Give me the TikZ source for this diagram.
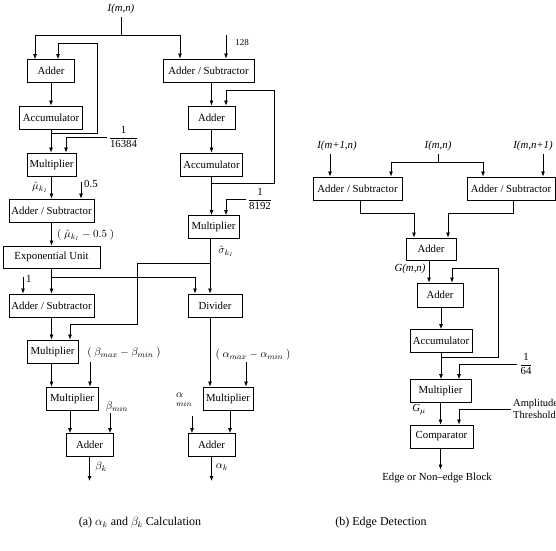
\documentclass[tikz,border=0pt]{standalone}
\usepackage{fontspec}
\setmainfont{Liberation Serif}
\usetikzlibrary{arrows.meta}
\begin{document}
\begin{tikzpicture}[x=1pt,y=-1pt,
    every node/.style={font=\fontsize{10.8}{12}\selectfont},
    block/.style={draw,line width=0.9pt,minimum height=23pt,inner sep=2pt},
    arrow/.style={line width=0.7pt,-{Latex[length=5pt,width=4pt]}},
    wire/.style={line width=0.7pt},
    frac/.style={inner sep=2pt},
    small/.style={font=\fontsize{9}{11.5}\selectfont},
    caption/.style={font=\fontsize{12}{14}\selectfont}]
\useasboundingbox (0,0) rectangle (556,550);

% (a) left column
\node (lblI) at (121,9) {\textit{I(m,n)}};
\node[block,minimum width=47pt] (addA) at (51,71) {Adder};
\node[block,minimum width=63pt] (accA) at (51,117.5) {Accumulator};
\node[block,minimum width=49pt] (mulA) at (51.5,164.5) {Multiplier};
\node[block,minimum width=85pt] (asA) at (51.5,210.5) {Adder / Subtractor};
\node[block,minimum width=97pt,minimum height=22pt] (expU) at (51.5,257) {Exponential Unit};
\node[block,minimum width=85pt] (asB) at (51.5,305.5) {Adder / Subtractor};
\node[block,minimum width=51pt] (mulB) at (52.5,351.5) {Multiplier};
\node[block,minimum width=52pt] (mulC) at (72,398.5) {Multiplier};
\node[block,minimum width=47pt] (addB) at (89.5,445) {Adder};

% (a) right column
\node[block,minimum width=91pt] (asC) at (208.5,70.5) {Adder / Subtractor};
\node[block,minimum width=47pt] (addC) at (211.5,117.5) {Adder};
\node[block,minimum width=62pt] (accB) at (211.5,164.5) {Accumulator};
\node[block,minimum width=51pt] (mulD) at (213.5,227) {Multiplier};
\node[block,minimum width=54pt] (divU) at (215,305.5) {Divider};
\node[block,minimum width=50pt] (mulE) at (228,398.5) {Multiplier};
\node[block,minimum width=47pt] (addD) at (211.5,445) {Adder};

% (a) labels
\node[frac] (fracA) at (123.5,137) {$\displaystyle\frac{\mbox{1}}{\mbox{16384}}$};
\node (muA) at (40,187) {$\hat\mu_{k_I}$};
\node[anchor=west,inner sep=1pt] (lbl05) at (83,184) {0.5};
\node[anchor=west,inner sep=0pt] (lblMu) at (57,234.5) {$(\ \hat\mu_{k_I} - 0.5\ )$};
\node[anchor=west,inner sep=1pt] (lbl1) at (25,279) {1};
\node (lblSig) at (226,251) {$\hat\sigma_{k_I}$};
\node (lblBr) at (124,353) {$(\ \beta_{max} - \beta_{min}\ )$};
\node (lblBm) at (117,407) {$\beta_{min}$};
\node (lblBk) at (101,467) {$\beta_k$};
\node (lblAr) at (253,355) {$(\ \alpha_{max} - \alpha_{min}\ )$};
\node[align=left] (lblAm) at (184,400) {$\alpha$\\[-3pt]$\scriptstyle min$};
\node (lblAk) at (222,467) {$\alpha_k$};
\node[small] (lbl128) at (242,43) {128};
\node[frac] (fracB) at (260,199) {$\displaystyle\frac{\mbox{1}}{\mbox{8192}}$};

\coordinate (jI) at (121,35);
\coordinate (fA) at (35,35);
\coordinate (fC) at (180,35);
\coordinate (tapA) at (51,133);
\coordinate (fbA) at (97,43);
\coordinate (in05) at (81,182);
\coordinate (jE) at (51.5,277);
\coordinate (in1) at (23,277);
\coordinate (jS) at (210,263);
\coordinate (bS) at (137,324);
\coordinate (inBr) at (90,362);
\coordinate (inBm) at (110,413);
\coordinate (outB) at (89.5,481);
\coordinate (in128) at (226,35);
\coordinate (tapC) at (211.5,183);
\coordinate (fbC) at (274,90);
\coordinate (inAr) at (246,362);
\coordinate (inAm) at (192,416);
\coordinate (outA) at (211.5,481);

\draw[wire] (lblI) -- (jI);
\draw[arrow] (jI) -- (fA) -- (fA |- addA.north);
\draw[arrow] (jI) -- (fC) -- (fC |- asC.north);
\draw[arrow] (tapA) -| (fbA) -| ([xshift=7pt]addA.north);
\draw[arrow] (addA) -- (accA);
\draw[arrow] (accA) -- (accA.south |- mulA.north);
\draw[arrow] (fracA.west) -| ([xshift=14.5pt]mulA.north);
\draw[arrow] (mulA) -- (asA);
\draw[arrow] (in05) -- (in05 |- asA.north);
\draw[arrow] (asA) -- (expU);
\draw[arrow] (expU) -- (asB);
\draw[arrow] (jE) -| ([xshift=-20pt]divU.north);
\draw[arrow] (in1) -- (in1 |- asB.north);
\draw[arrow] (asB.south) -- (asB.south |- mulB.north);
\draw[wire] (jS |- mulD.south) -- (jS);
\draw[arrow] (jS) -- (jS |- divU.north);
\draw[arrow] (jS) -| (bS) -| ([xshift=17.5pt]mulB.north);
\draw[arrow] (asB.south |- mulB.south) -- (asB.south |- mulC.north);
\draw[arrow] (inBr) -- (inBr |- mulC.north);
\draw[arrow] ([xshift=-2pt]mulC.south) -- ([xshift=-2pt]mulC.south |- addB.north);
\draw[arrow] (inBm) -- (inBm |- addB.north);
\draw[arrow] (addB) -- (outB);

\draw[arrow] (in128) -- (in128 |- asC.north);
\draw[arrow] (addC.north |- asC.south) -- (addC.north);
\draw[arrow] (tapC) -| (fbC) -| ([xshift=14.5pt]addC.north);
\draw[arrow] (addC) -- (accB);
\draw[arrow] (accB.south) -- (accB.south |- mulD.north);
\draw[arrow] (fracB.west) -| ([xshift=12.5pt]mulD.north);
\draw[arrow] (jS |- divU.south) -- (jS |- mulE.north);
\draw[arrow] (inAr) -- (inAr |- mulE.north);
\draw[arrow] ([xshift=2pt]mulE.south) -- ([xshift=2pt]mulE.south |- addD.north);
\draw[arrow] (inAm) -- (inAm |- addD.north);
\draw[arrow] (addD) -- (outA);

% (b) edge detection
\node (lblIa) at (337,146) {\textit{I(m+1,n)}};
\node (lblIb) at (438,146) {\textit{I(m,n)}};
\node (lblIc) at (533,146) {\textit{I(m,n+1)}};
\node[block,minimum width=89pt] (asD) at (357.5,188.5) {Adder / Subtractor};
\node[block,minimum width=88pt] (asE) at (511,188.5) {Adder / Subtractor};
\node[block,minimum width=50pt,minimum height=22pt] (addE) at (431,249) {Adder};
\node[block,minimum width=46pt,minimum height=24pt] (addF) at (440,295) {Adder};
\node[block,minimum width=62pt] (accC) at (441,341) {Accumulator};
\node[block,minimum width=61pt] (mulF) at (440.5,391) {Multiplier};
\node[block,minimum width=63pt] (cmpU) at (441.5,436.5) {Comparator};
\node (lblG) at (410,269) {\textit{G(m,n)}};
\node (lblGm) at (419,410) {\textit{G}$_\mu$};
\node[frac] (fracC) at (526,364) {$\displaystyle\frac{\mbox{1}}{\mbox{64}}$};
\node[align=left,anchor=west,inner sep=2pt,font=\fontsize{10.5}{12}\selectfont] (lblAT) at (511,409) {Amplitude\\Threshold};
\node (lblEdge) at (437,478) {Edge or Non--edge Block};

\coordinate (jR) at (438,162);
\coordinate (bD) at (414,213);
\coordinate (bE) at (448,213);
\coordinate (tapF) at (441,357);
\coordinate (fbF) at (498,268);

\draw[arrow] ([xshift=-7pt]lblIa.south) -- ([xshift=-7pt]lblIa.south |- asD.north);
\draw[wire] (lblIb) -- (jR);
\draw[arrow] (jR) -| ([xshift=33.5pt]asD.north);
\draw[arrow] (jR) -| ([xshift=-28pt]asE.north);
\draw[arrow] ([xshift=10pt]lblIc.south) -- ([xshift=10pt]lblIc.south |- asE.north);
\draw[arrow] ([xshift=2.5pt]asD.south) |- (bD) -- (bD |- addE.north);
\draw[arrow] ([xshift=2pt]asE.south) |- (bE) -- (bE |- addE.north);
\draw[arrow] ([xshift=-2pt]addE.south) -- ([xshift=-2pt]addE.south |- addF.north);
\draw[arrow] (tapF) -| (fbF) -| ([xshift=12pt]addF.north);
\draw[arrow] (accC.north |- addF.south) -- (accC.north);
\draw[arrow] (accC) -- (accC.south |- mulF.north);
\draw[arrow] (fracC.west) -| ([xshift=18.5pt]mulF.north);
\draw[arrow] (mulF.south) -- (mulF.south |- cmpU.north);
\draw[arrow] (lblAT.west) -| ([xshift=17.5pt]cmpU.north);
\draw[arrow] (mulF.south |- cmpU.south) -- (mulF.south |- lblEdge.north);

% captions
\node[caption] (capA) at (140,523) {(a) $\alpha_k$ and $\beta_k$ Calculation};
\node[caption] (capB) at (381,523) {(b) Edge Detection};
\end{tikzpicture}
\end{document}
